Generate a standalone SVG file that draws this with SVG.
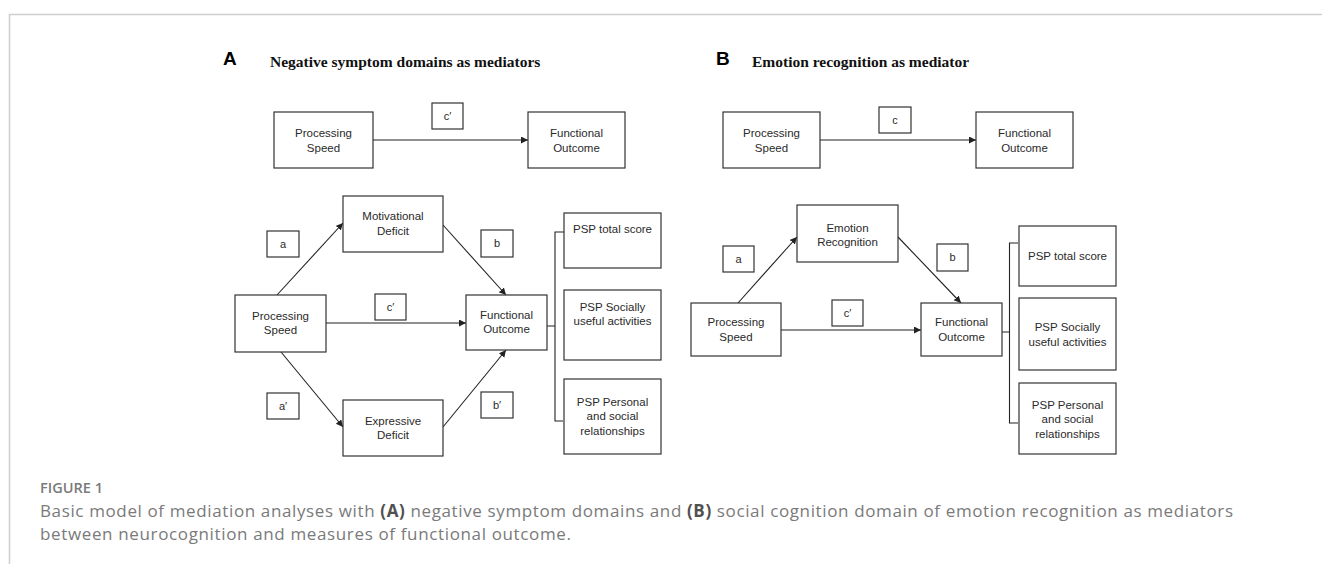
<svg xmlns="http://www.w3.org/2000/svg" width="1322" height="564" viewBox="0 0 1322 564">
<defs>
<marker id="arr" markerUnits="userSpaceOnUse" markerWidth="8" markerHeight="8" refX="7" refY="3.5" orient="auto">
<path d="M0,0 L7,3.5 L0,7 Z" fill="#222"/>
</marker>
<style>
.box{fill:#fff;stroke:#333;stroke-width:1.2}
.t{font-family:"Liberation Sans",Arial,sans-serif;font-size:11.5px;fill:#2a2a2a;text-anchor:middle}
.lbl{font-family:"Liberation Sans",Arial,sans-serif;font-size:11px;fill:#2a2a2a;text-anchor:middle}
.ttl{font-family:"Liberation Serif","Times New Roman",serif;font-size:15.5px;font-weight:bold;fill:#111}
.pl{font-family:"Liberation Sans",Arial,sans-serif;font-size:19px;font-weight:bold;fill:#000}
.cn{stroke:#222;stroke-width:1.1;fill:none}
.ar{marker-end:url(#arr)}
.cap{font-family:"Open Sans","Liberation Sans",sans-serif;fill:#7a7a7a}
</style>
</defs>
<rect width="1322" height="564" fill="#fff"/>
<path d="M9.5,564 V14.5 H1322" fill="none" stroke="#cfcfcf" stroke-width="1.5"/>

<text class="pl" x="223" y="65">A</text>
<text class="ttl" x="270" y="67">Negative symptom domains as mediators</text>
<text class="pl" x="716" y="65">B</text>
<text class="ttl" x="752" y="67">Emotion recognition as mediator</text>

<g id="connectors">
<line class="cn ar" x1="373" y1="140" x2="528" y2="140"/>
<line class="cn ar" x1="277" y1="295" x2="343" y2="223"/>
<line class="cn ar" x1="443" y1="225" x2="506" y2="295"/>
<line class="cn ar" x1="326" y1="323" x2="466" y2="323"/>
<line class="cn ar" x1="281" y1="352" x2="343" y2="427"/>
<line class="cn ar" x1="443" y1="427" x2="506" y2="350"/>
<path class="cn" d="M564,232 H555 V421 H563 M547,326 H555"/>
<line class="cn ar" x1="820" y1="140" x2="976" y2="140"/>
<line class="cn ar" x1="738" y1="303" x2="797" y2="237"/>
<line class="cn ar" x1="898" y1="237" x2="961" y2="303"/>
<line class="cn ar" x1="781" y1="330" x2="921" y2="330"/>
<path class="cn" d="M1018,243 H1009.5 V423 H1018 M1002,332 H1009.5"/>
</g>

<g id="a-top-ps"><rect class="box" x="274" y="112" width="99" height="56"/><text class="t" x="323.5" y="137">Processing</text><text class="t" x="323.5" y="152">Speed</text></g>
<g id="a-top-c"><rect class="box" x="432" y="103" width="31" height="26"/><text class="lbl" x="447.5" y="120">c′</text></g>
<g id="a-top-fo"><rect class="box" x="528" y="112" width="97" height="56"/><text class="t" x="576.5" y="137">Functional</text><text class="t" x="576.5" y="152">Outcome</text></g>

<g id="a-md"><rect class="box" x="343" y="196" width="100" height="56"/><text class="t" x="393" y="220">Motivational</text><text class="t" x="393" y="235">Deficit</text></g>
<g id="a-lbl-a"><rect class="box" x="267" y="231" width="32" height="26"/><text class="lbl" x="283" y="248">a</text></g>
<g id="a-lbl-b"><rect class="box" x="481" y="230" width="32" height="27"/><text class="lbl" x="497" y="247">b</text></g>
<g id="a-ps"><rect class="box" x="235" y="295" width="91" height="57"/><text class="t" x="280.5" y="320">Processing</text><text class="t" x="280.5" y="334">Speed</text></g>
<g id="a-lbl-c"><rect class="box" x="375" y="294" width="31" height="26"/><text class="lbl" x="390.5" y="311">c′</text></g>
<g id="a-fo"><rect class="box" x="466" y="295" width="81" height="55"/><text class="t" x="506.5" y="319">Functional</text><text class="t" x="506.5" y="333">Outcome</text></g>
<g id="a-lbl-a2"><rect class="box" x="267" y="393" width="32" height="26"/><text class="lbl" x="283" y="410">a′</text></g>
<g id="a-ed"><rect class="box" x="343" y="400" width="100" height="56"/><text class="t" x="393" y="425">Expressive</text><text class="t" x="393" y="439">Deficit</text></g>
<g id="a-lbl-b2"><rect class="box" x="481" y="392" width="32" height="26"/><text class="lbl" x="497" y="409">b′</text></g>
<g id="a-psp1"><rect class="box" x="564" y="213" width="97" height="55"/><text class="t" x="612.5" y="233">PSP total score</text></g>
<g id="a-psp2"><rect class="box" x="564" y="290" width="97" height="70"/><text class="t" x="612.5" y="311">PSP Socially</text><text class="t" x="612.5" y="325">useful activities</text></g>
<g id="a-psp3"><rect class="box" x="564" y="379" width="97" height="75"/><text class="t" x="612.5" y="406">PSP Personal</text><text class="t" x="612.5" y="420">and social</text><text class="t" x="612.5" y="435">relationships</text></g>

<g id="b-top-ps"><rect class="box" x="723" y="112" width="97" height="56"/><text class="t" x="771.5" y="137">Processing</text><text class="t" x="771.5" y="152">Speed</text></g>
<g id="b-top-c"><rect class="box" x="879" y="107" width="32" height="26"/><text class="lbl" x="895" y="124">c</text></g>
<g id="b-top-fo"><rect class="box" x="976" y="112" width="97" height="56"/><text class="t" x="1024.5" y="137">Functional</text><text class="t" x="1024.5" y="152">Outcome</text></g>

<g id="b-er"><rect class="box" x="797" y="205" width="101" height="57"/><text class="t" x="847.5" y="232">Emotion</text><text class="t" x="847.5" y="246">Recognition</text></g>
<g id="b-lbl-a"><rect class="box" x="723" y="246" width="31" height="26"/><text class="lbl" x="738.5" y="263">a</text></g>
<g id="b-lbl-b"><rect class="box" x="937" y="244" width="31" height="27"/><text class="lbl" x="952.5" y="261">b</text></g>
<g id="b-ps"><rect class="box" x="691" y="303" width="90" height="53"/><text class="t" x="736" y="326">Processing</text><text class="t" x="736" y="341">Speed</text></g>
<g id="b-lbl-c"><rect class="box" x="832" y="300" width="31" height="26"/><text class="lbl" x="847.5" y="317">c′</text></g>
<g id="b-fo"><rect class="box" x="921" y="303" width="81" height="53"/><text class="t" x="961.5" y="326">Functional</text><text class="t" x="961.5" y="341">Outcome</text></g>
<g id="b-psp1"><rect class="box" x="1019" y="226" width="97" height="60"/><text class="t" x="1067.5" y="260">PSP total score</text></g>
<g id="b-psp2"><rect class="box" x="1019" y="298" width="97" height="72"/><text class="t" x="1067.5" y="331">PSP Socially</text><text class="t" x="1067.5" y="346">useful activities</text></g>
<g id="b-psp3"><rect class="box" x="1019" y="383" width="97" height="71"/><text class="t" x="1067.5" y="409">PSP Personal</text><text class="t" x="1067.5" y="423">and social</text><text class="t" x="1067.5" y="438">relationships</text></g>

<text class="cap" x="40" y="493" font-size="14.5" font-weight="600" textLength="63" lengthAdjust="spacingAndGlyphs">FIGURE 1</text>
<text class="cap" x="40" y="517" font-size="17" textLength="1193" lengthAdjust="spacing">Basic model of mediation analyses with <tspan font-weight="bold" fill="#505050">(A)</tspan> negative symptom domains and <tspan font-weight="bold" fill="#505050">(B)</tspan> social cognition domain of emotion recognition as mediators</text>
<text class="cap" x="40" y="540" font-size="17" textLength="531" lengthAdjust="spacing">between neurocognition and measures of functional outcome.</text>
</svg>
